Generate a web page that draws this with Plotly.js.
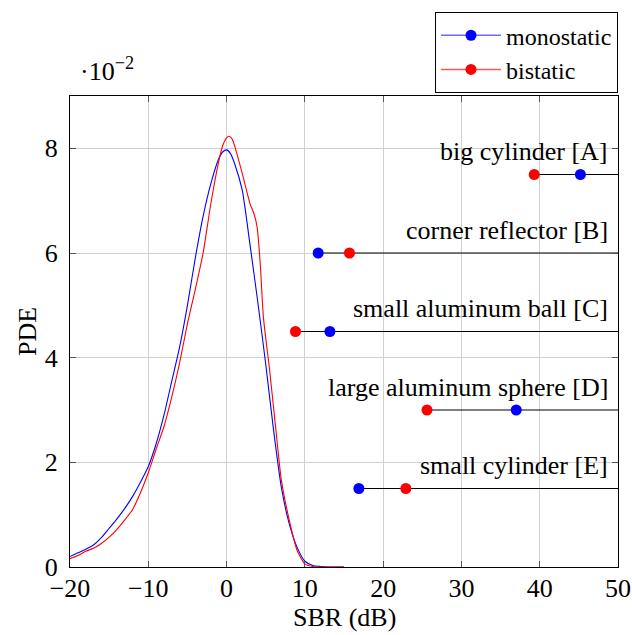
<!DOCTYPE html>
<html>
<head>
<meta charset="utf-8">
<script src="https://cdn.plot.ly/plotly-3.0.1.min.js"></script>
<style>html,body{margin:0;padding:0;background:#fff;}#chart{width:632px;height:635px;}</style>
</head>
<body>
<div id="chart"></div>
<script>
// PDE curves (values in units of 1e-2)
const monoX = [-20,-19,-18,-17,-16,-15,-14,-13,-12,-11,-10,-9,-8,-7,-6,-5,-4,-3,-2,-1,-0.5,0,0.5,1,2,3,4,5,6,7,8,9,10,11,12,13,15];
const monoY = [0.2,0.27,0.34,0.42,0.56,0.74,0.92,1.12,1.35,1.62,1.92,2.35,2.9,3.55,4.2,5.0,5.9,6.7,7.33,7.8,7.93,7.97,7.9,7.72,7.2,6.15,5.05,3.88,2.62,1.52,0.83,0.38,0.11,0.03,0.01,0,0];
const biX = [-20,-19,-18,-17,-16,-15,-14,-13,-12,-11,-10,-9,-8,-7,-6,-5,-4,-3,-2,-1,-0.5,0,0.3,0.7,1,2,3,3.5,3.9,4.3,4.7,5.5,6.3,7,8,9,10,11,12,15];
const biY = [0.16,0.22,0.3,0.36,0.45,0.57,0.72,0.9,1.1,1.42,1.8,2.25,2.68,3.25,3.9,4.65,5.3,6.0,6.95,7.75,8.05,8.2,8.23,8.18,8.06,7.52,6.94,6.75,6.5,5.8,4.78,3.76,2.62,1.66,0.9,0.32,0.06,0.01,0,0];

// Targets: SBR (dB) for each configuration
const targets = ["big cylinder [A]","corner reflector [B]","small aluminum ball [C]","large aluminum sphere [D]","small cylinder [E]"];
const targetLevel = [7.5, 6, 4.5, 3, 1.5];
const monoSBR = [45.2, 11.7, 13.2, 37.0, 16.9];
const biSBR = [39.3, 15.7, 8.8, 25.6, 22.9];

const xRange = [-20, 50];
const yRange = [0, 9];
const yTicks = [0,2,4,6,8];
const xTicks = [-20,-10,0,10,20,30,40,50];
const seriesNames = ["monostatic","bistatic"];
const xTitle = "SBR (dB)";
const yTitle = "PDE";

const FONT = "Liberation Serif";
const FS = 26;
const BLUE = "#0000ff", RED = "#ff0000";

const traces = [];
// target lines
targets.forEach((t,i) => {
  traces.push({x:[Math.min(monoSBR[i],biSBR[i]), xRange[1]], y:[targetLevel[i],targetLevel[i]],
    mode:'lines', line:{color:'#000',width:1}, showlegend:false, hoverinfo:'skip'});
});
traces.push({x:monoX, y:monoY, mode:'lines', line:{color:BLUE,width:1.1,shape:'spline',smoothing:0.6}, showlegend:false});
traces.push({x:biX, y:biY, mode:'lines', line:{color:RED,width:1.1,shape:'spline',smoothing:0.6}, showlegend:false});
traces.push({x:monoSBR, y:targetLevel, mode:'markers', marker:{color:BLUE,size:11}, showlegend:false});
traces.push({x:biSBR, y:targetLevel, mode:'markers', marker:{color:RED,size:11}, showlegend:false});
// legend entries
traces.push({x:[null], y:[null], name:seriesNames[0], mode:'lines+markers', line:{color:'#6a6aff',width:1.5}, marker:{color:BLUE,size:11}});
traces.push({x:[null], y:[null], name:seriesNames[1], mode:'lines+markers', line:{color:'#ff5555',width:1.5}, marker:{color:RED,size:11}});

const annotations = targets.map((t,i) => ({
  text:t, xref:'paper', x:1, xanchor:'right', xshift:-8,
  yref:'y', y:targetLevel[i], yanchor:'middle', yshift:23,
  showarrow:false, font:{family:FONT,size:FS,color:'#000'}
}));
annotations.push({text:'·10<sup>−2</sup>', xref:'paper', yref:'paper', x:0, y:1, xanchor:'left', yanchor:'bottom',
  xshift:8, yshift:8, showarrow:false, font:{family:FONT,size:FS,color:'#000'}});
annotations.push({text:xTitle, xref:'paper', yref:'paper', x:0.5, y:0, xanchor:'center', yanchor:'middle',
  yshift:-50, showarrow:false, font:{family:FONT,size:FS,color:'#000'}});

const layout = {
  width:632, height:635,
  margin:{l:70, r:14, t:96, b:68},
  paper_bgcolor:'#fff', plot_bgcolor:'#fff',
  font:{family:FONT, size:FS, color:'#000'},
  showlegend:true,
  legend:{x:1, xanchor:'right', y:1.178, yanchor:'top', bordercolor:'#000', borderwidth:1,
    bgcolor:'#fff', font:{family:FONT,size:24}, tracegroupgap:0, itemwidth:60},
  xaxis:{range:xRange, tickvals:xTicks, ticktext:xTicks.map(v=>v<0?'−'+Math.abs(v):String(v)),
    ticks:'inside', ticklen:6, tickcolor:'#555', mirror:'ticks', showline:true, linecolor:'#000', linewidth:1,
    showgrid:true, gridcolor:'#d0d0d0', gridwidth:1, zeroline:false, automargin:false, ticklabelstandoff:-2,
    tickfont:{family:FONT,size:FS}},
  yaxis:{range:yRange, tickvals:yTicks, ticktext:yTicks.map(String),
    ticks:'inside', ticklen:6, tickcolor:'#555', mirror:'ticks', showline:true, linecolor:'#000', linewidth:1,
    showgrid:true, gridcolor:'#d0d0d0', gridwidth:1, zeroline:false, automargin:false, ticklabelstandoff:6,
    tickfont:{family:FONT,size:FS}, title:{text:yTitle, font:{family:FONT,size:FS}, standoff:0}},
  annotations:annotations
};
Plotly.newPlot('chart', traces, layout, {displayModeBar:false, staticPlot:true});
</script>
</body>
</html>
